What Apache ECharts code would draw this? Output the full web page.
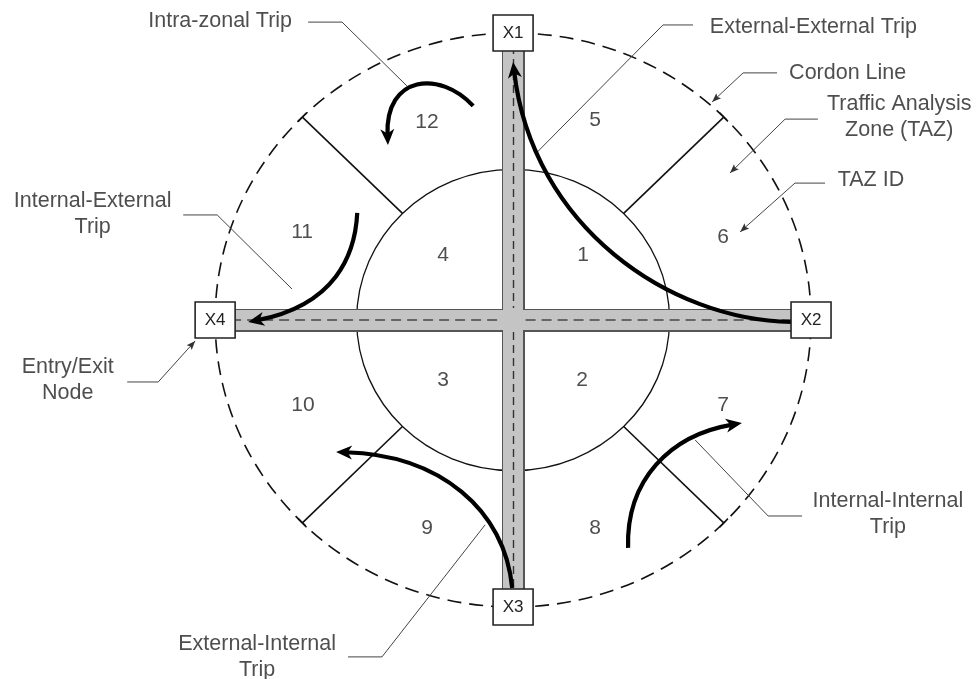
<!DOCTYPE html>
<html>
<head>
<meta charset="utf-8">
<script src="https://cdn.jsdelivr.net/npm/echarts@6/dist/echarts.min.js"></script>
<style>
  html, body { margin: 0; padding: 0; background: #fff; }
  #chart { width: 977px; height: 679px; }
</style>
</head>
<body>
<div id="chart"></div>
<script>
// diagram units: cordon line radius = 100, centre of the study area = (0, 0)
const outerR = 100
const innerR = 52.5

// entry / exit nodes on the cordon line
const nodeNames = ['X1', 'X2', 'X3', 'X4']
const nodeX = [0, 100, 0, -100]
const nodeY = [100, 0, -100, 0]

// TAZ ids
const zoneIds = ['1', '2', '3', '4', '5', '6', '7', '8', '9', '10', '11', '12']
const zoneX = [23.5, 23.2, -23.5, -23.5, 27.5, 70.5, 70.5, 27.5, -28.9, -70.5, -70.8, -28.9]
const zoneY = [22.6, -20.9, -20.9, 22.6, 69.7, 28.9, -29.6, -72.5, -72.5, -29.6, 30.7, 69.0]

// zone boundaries between inner circle and cordon line (degrees)
const dividerAngles = [45, 135, 225, 315]

// roads (X1-X3 and X4-X2)
const roads = [[[0, 100], [0, -100]], [[-100, 0], [100, 0]]]
const roadCentreV = [[[0, 100], [0, 4.2]], [[0, -4.2], [0, -100]]]
const roadCentreH = [[[-100, 0], [-4.2, 0]], [[4.2, 0], [100, 0]]]

// trip arrows: start, control 1, control 2, arrow tip
const tripNames = ['External-External', 'Intra-zonal', 'Internal-External', 'External-Internal', 'Internal-Internal']
const tripPaths = [
  [[93.3, -0.7], [52.7, 0], [6.4, 32.4], [0, 89.9]],
  [[-13.4, 74.6], [-24.5, 87.1], [-43.0, 85.4], [-42.0, 61.0]],
  [[-52.3, 37.3], [-53.0, 22.6], [-59.7, 5.2], [-88.9, -0.7]],
  [[-0.3, -93.4], [-2.7, -66.2], [-24.5, -47.0], [-59.4, -46.0]],
  [[38.6, -79.4], [37.9, -55.7], [52.7, -40.1], [76.8, -35.9]]
]

// callout texts
const calloutTexts = ['Intra-zonal Trip', 'External-External Trip', 'Cordon Line', 'Traffic Analysis\nZone (TAZ)',
  'TAZ ID', 'Internal-External\nTrip', 'Entry/Exit\nNode', 'External-Internal\nTrip', 'Internal-Internal\nTrip']
const calloutX = [-98.3, 100.8, 112.3, 129.6, 120.1, -141.1, -149.5, -85.9, 125.8]
const calloutY = [104.0, 102.2, 86.0, 70.6, 48.6, 36.8, -21.1, -117.4, -67.6]

// leader lines without arrowhead
const leaders = [
  [[-68.8, 103.8], [-57.4, 103.8], [-34.6, 80.5]],
  [[60.4, 102.8], [50.3, 102.8], [8.1, 58.5]],
  [[-110.7, 36.6], [-99.3, 36.6], [-74.2, 10.8]],
  [[-55.4, -117.4], [-44.0, -117.4], [-9.4, -71.4]],
  [[97.0, -68.3], [85.6, -68.3], [61.1, -41.8]]
]
// leader lines with arrowhead
const pointers = [
  [[88.6, 86.1], [77.2, 86.1], [66.8, 76.0]],
  [[102.3, 70.0], [91.3, 70.0], [72.8, 51.2]],
  [[104.7, 47.7], [94.6, 47.7], [76.2, 30.7]],
  [[-129.5, -21.6], [-119.1, -21.6], [-106.7, -7.3]]
]

const font = 'Liberation Sans, Arial, sans-serif'
const chart = echarts.init(document.getElementById('chart'))

function ringItem(params, api) {
  const c = api.coord([api.value(0), api.value(1)])
  const s = api.size([api.value(2), api.value(2)])
  const dashed = api.value(3) === 1
  return {
    type: 'ellipse',
    shape: { cx: c[0], cy: c[1], rx: s[0], ry: s[1] },
    style: {
      fill: 'none',
      stroke: '#111',
      lineWidth: dashed ? 1.6 : 1.3,
      lineDash: dashed ? [14, 8] : null
    }
  }
}

function dividerItem(params, api) {
  const a = api.value(0) * Math.PI / 180
  const p1 = api.coord([innerR * Math.cos(a), innerR * Math.sin(a)])
  const p2 = api.coord([outerR * Math.cos(a), outerR * Math.sin(a)])
  const dx = p2[0] - p1[0], dy = p2[1] - p1[1]
  const len = Math.sqrt(dx * dx + dy * dy)
  const nx = -dy / len * 6, ny = dx / len * 6
  const style = { stroke: '#111', lineWidth: 1.6 }
  return {
    type: 'group',
    children: [
      { type: 'line', shape: { x1: p1[0], y1: p1[1], x2: p2[0], y2: p2[1] }, style: style },
      { type: 'line', shape: { x1: p2[0] - nx, y1: p2[1] - ny, x2: p2[0] + nx, y2: p2[1] + ny }, style: style }
    ]
  }
}

// arrowhead polygon at tip, direction from prev to tip
function arrowHead(prev, tip, L, W, notchRatio) {
  let dx = tip[0] - prev[0], dy = tip[1] - prev[1]
  const len = Math.sqrt(dx * dx + dy * dy)
  dx /= len; dy /= len
  const base = [tip[0] - dx * L, tip[1] - dy * L]
  const notch = [tip[0] - dx * L * notchRatio, tip[1] - dy * L * notchRatio]
  return {
    points: [tip, [base[0] - dy * W, base[1] + dx * W], notch, [base[0] + dy * W, base[1] - dx * W]],
    end: [tip[0] - dx * L * 0.6, tip[1] - dy * L * 0.6]
  }
}

function tripItem(params, api) {
  const p = [0, 1, 2, 3].map(k => api.coord([api.value(2 * k), api.value(2 * k + 1)]))
  const head = arrowHead(p[2], p[3], 16, 7, 0.72)
  const end = head.end
  return {
    type: 'group',
    children: [
      {
        type: 'bezierCurve',
        shape: {
          x1: p[0][0], y1: p[0][1], cpx1: p[1][0], cpy1: p[1][1],
          cpx2: p[2][0], cpy2: p[2][1], x2: end[0], y2: end[1]
        },
        style: { fill: 'none', stroke: '#000', lineWidth: 4.2 }
      },
      { type: 'polygon', shape: { points: head.points }, style: { fill: '#000' } }
    ]
  }
}

function pointerItem(params, api) {
  const p = [0, 1, 2].map(k => api.coord([api.value(2 * k), api.value(2 * k + 1)]))
  const head = arrowHead(p[1], p[2], 9, 3.5, 0.8)
  return {
    type: 'group',
    children: [
      {
        type: 'polyline',
        shape: { points: [p[0], p[1], p[2]] },
        style: { fill: 'none', stroke: '#444', lineWidth: 1 }
      },
      { type: 'polygon', shape: { points: head.points }, style: { fill: '#333' } }
    ]
  }
}

const option = {
  animation: false,
  backgroundColor: '#fff',
  grid: { left: 0, right: 0, top: 0, bottom: 0 },
  xAxis: { type: 'value', min: -172.2, max: 155.7, show: false },
  yAxis: { type: 'value', min: -125.1, max: 111.5, show: false },
  series: [
    {
      type: 'custom',
      renderItem: ringItem,
      silent: true,
      data: [[0, 0, outerR, 1], [0, 0, innerR, 0]]
    },
    {
      type: 'custom',
      renderItem: dividerItem,
      silent: true,
      data: dividerAngles.map(a => [a])
    },
    {
      type: 'lines',
      coordinateSystem: 'cartesian2d',
      silent: true,
      lineStyle: { color: '#555', width: 23, opacity: 1 },
      data: roads.map(r => ({ coords: r }))
    },
    {
      type: 'lines',
      coordinateSystem: 'cartesian2d',
      silent: true,
      lineStyle: { color: '#c4c4c4', width: 20, opacity: 1 },
      data: roads.map(r => ({ coords: r }))
    },
    {
      type: 'lines',
      coordinateSystem: 'cartesian2d',
      silent: true,
      lineStyle: { color: '#333', width: 1.4, type: [8, 5], opacity: 1 },
      data: roadCentreV.map(r => ({ coords: r }))
    },
    {
      type: 'lines',
      coordinateSystem: 'cartesian2d',
      silent: true,
      lineStyle: { color: '#666', width: 2, type: [10, 6], opacity: 1 },
      data: roadCentreH.map(r => ({ coords: r }))
    },
    {
      type: 'lines',
      coordinateSystem: 'cartesian2d',
      polyline: true,
      silent: true,
      lineStyle: { color: '#444', width: 1, opacity: 1 },
      data: leaders.map(r => ({ coords: r }))
    },
    {
      type: 'custom',
      renderItem: pointerItem,
      silent: true,
      data: pointers.map(p => [].concat(...p))
    },
    {
      type: 'custom',
      renderItem: tripItem,
      silent: true,
      data: tripPaths.map((p, i) => ({ name: tripNames[i], value: [].concat(...p) }))
    },
    {
      type: 'scatter',
      silent: true,
      symbol: 'rect',
      symbolSize: [40, 36],
      itemStyle: { color: '#fff', borderColor: '#222', borderWidth: 1.5, opacity: 1 },
      label: {
        show: true, position: 'inside', formatter: '{b}',
        fontFamily: font, fontSize: 17, color: '#222'
      },
      data: nodeNames.map((n, i) => ({ name: n, value: [nodeX[i], nodeY[i]] }))
    },
    {
      type: 'scatter',
      silent: true,
      symbolSize: 0,
      label: {
        show: true, position: 'inside', formatter: '{b}',
        fontFamily: font, fontSize: 21, color: '#222'
      },
      data: zoneIds.map((n, i) => ({ name: n, value: [zoneX[i], zoneY[i]] }))
    },
    {
      type: 'scatter',
      silent: true,
      symbolSize: 0,
      label: {
        show: true, position: 'inside', formatter: '{b}',
        fontFamily: font, fontSize: 21.5, lineHeight: 26, align: 'center', color: '#222'
      },
      data: calloutTexts.map((n, i) => ({ name: n, value: [calloutX[i], calloutY[i]] }))
    }
  ]
}
chart.setOption(option)
</script>
</body>
</html>
